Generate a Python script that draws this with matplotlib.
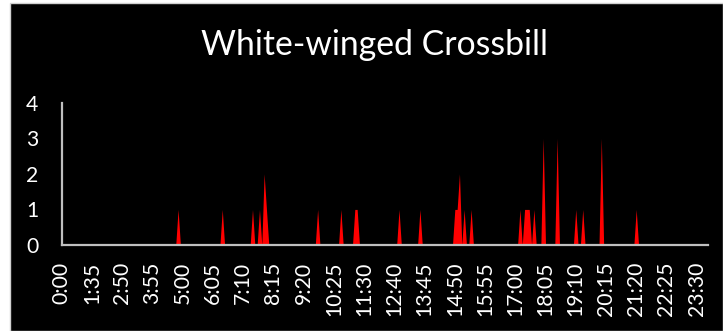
import matplotlib
matplotlib.use("Agg")
import matplotlib.pyplot as plt
from matplotlib.patches import Rectangle
import numpy as np

# Five-minute time slots on the category axis (a few slots were never logged)
missing_slots = ["0:05", "0:10", "0:15", "0:20", "0:25", "0:30", "1:40", "1:45", "11:35"]
categories = [f"{m // 60}:{m % 60:02d}" for m in range(0, 24 * 60, 5)]
categories = [c for c in categories if c not in missing_slots]

# Detections of White-winged Crossbill per time slot (all other slots are zero)
sighting_times = ["4:50", "6:25", "7:30", "7:45", "7:55", "8:00", "9:50", "10:40",
                  "11:10", "11:15", "12:50", "13:35", "14:50", "14:55", "15:00",
                  "15:10", "15:25", "17:10", "17:20", "17:25", "17:30", "17:40",
                  "18:00", "18:30", "19:10", "19:25", "20:05", "21:20"]
sighting_counts = [1, 1, 1, 1, 2, 1, 1, 1,
                   1, 1, 1, 1, 1, 1, 2,
                   1, 1, 1, 1, 1, 1, 1,
                   3, 3, 1, 1, 3, 1]

tick_labels = ["0:00", "1:35", "2:50", "3:55", "5:00", "6:05", "7:10", "8:15",
               "9:20", "10:25", "11:30", "12:40", "13:45", "14:50", "15:55",
               "17:00", "18:05", "19:10", "20:15", "21:20", "22:25", "23:30"]
y_ticks = [0, 1, 2, 3, 4]

counts = np.zeros(len(categories))
for t, c in zip(sighting_times, sighting_counts):
    counts[categories.index(t)] = c

W, H = 723, 331
plt.rcParams["font.family"] = ["Lato", "DejaVu Sans"]
fig = plt.figure(figsize=(W / 100, H / 100), dpi=100, facecolor="white")

# dark chart area with a thin light frame on the top/left
fig.patches.append(Rectangle((10 / W, 0), 1 - 10 / W, 1 - 3 / H, transform=fig.transFigure,
                             facecolor="black", edgecolor="#d0d0d0", linewidth=1.0,
                             zorder=-5))

ax = fig.add_axes([61.8 / W, 86 / H, (708.3 - 61.8) / W, 142.3 / H])
ax.set_zorder(2)
ax.patch.set_visible(False)

x = np.arange(len(categories))
ax.fill_between(x, counts, 0, color="#ff0000", linewidth=0)

ax.set_xlim(0, len(categories) - 1)
ax.set_ylim(0, 4)

tick_pos = [categories.index(t) for t in tick_labels]
ax.set_xticks(tick_pos)
ax.set_xticklabels(tick_labels, rotation=90, color="white", fontsize=15.2)
ax.set_yticks(y_ticks)
ax.set_yticklabels([str(v) for v in y_ticks], color="white", fontsize=15.2)
ax.tick_params(axis="x", length=0, pad=12)
ax.tick_params(axis="y", length=0, pad=17)

for s in ["top", "right"]:
    ax.spines[s].set_visible(False)
for s in ["left", "bottom"]:
    ax.spines[s].set_color("#bfbfbf")
    ax.spines[s].set_linewidth(1.6)

fig.text(374 / W, 1 - 55 / H, "White-winged Crossbill", color="white",
         fontsize=24.3, ha="center", va="baseline", zorder=3)

fig.savefig("out.png", dpi=100, facecolor=fig.get_facecolor())
